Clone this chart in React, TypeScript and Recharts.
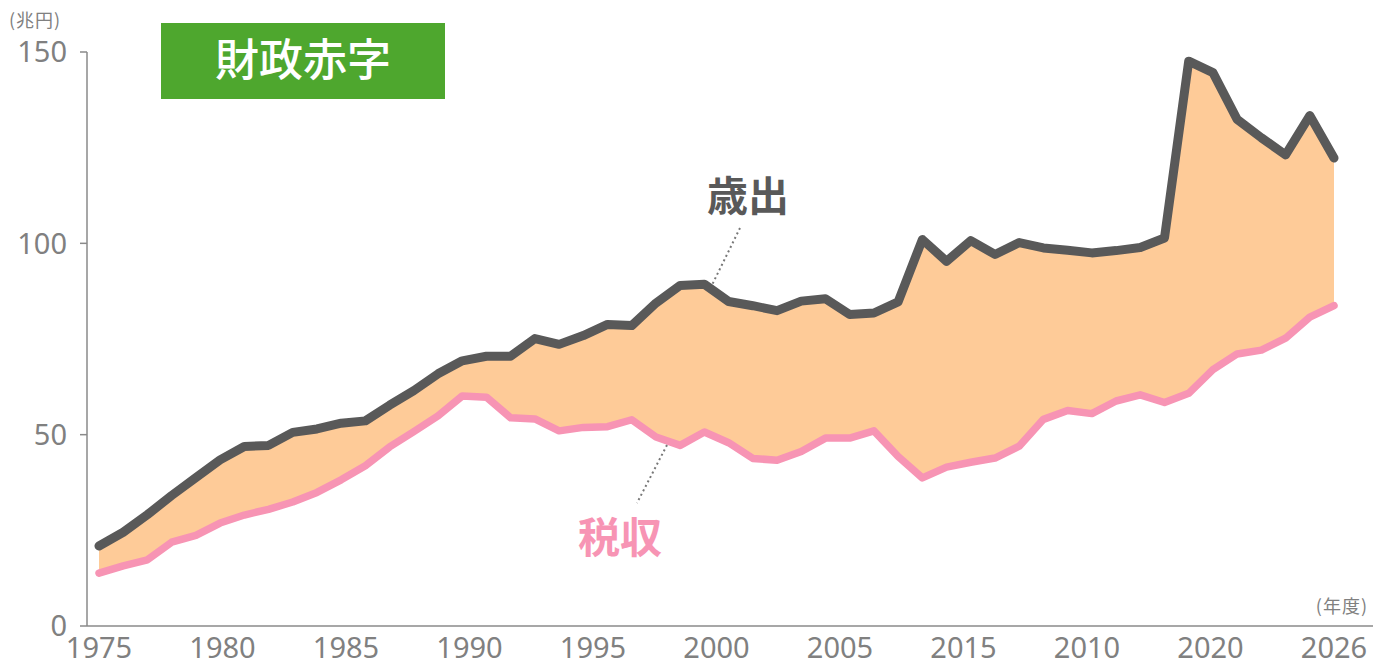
import { ComposedChart, Area, Line, XAxis, YAxis } from 'recharts'

// 年度
const YEARS = [
  1975, 1976, 1977, 1978, 1979, 1980, 1981, 1982, 1983, 1984,
  1985, 1986, 1987, 1988, 1989, 1990, 1991, 1992, 1993, 1994,
  1995, 1996, 1997, 1998, 1999, 2000, 2001, 2002, 2003, 2004,
  2005, 2006, 2007, 2008, 2009, 2010, 2011, 2012, 2013, 2014,
  2015, 2016, 2017, 2018, 2019, 2020, 2021, 2022, 2023, 2024,
  2025, 2026,
]

// 歳出 (兆円)
const EXPENDITURE = [
  20.9, 24.5, 29.1, 34.1, 38.8, 43.4, 46.9, 47.2, 50.6, 51.5,
  53.0, 53.6, 57.7, 61.5, 65.9, 69.3, 70.5, 70.5, 75.1, 73.6,
  75.9, 78.8, 78.5, 84.4, 89.0, 89.3, 84.8, 83.7, 82.4, 84.9,
  85.5, 81.4, 81.8, 84.7, 101.0, 95.3, 100.7, 97.1, 100.2, 98.8,
  98.2, 97.5, 98.1, 98.9, 101.4, 147.6, 144.6, 132.4, 127.6, 123.1,
  133.4, 122.3,
]

// 税収 (兆円)
const TAX_REVENUE = [
  13.8, 15.7, 17.3, 21.9, 23.7, 26.9, 29.0, 30.5, 32.4, 34.9,
  38.2, 41.9, 46.8, 50.8, 54.9, 60.1, 59.8, 54.4, 54.1, 51.0,
  51.9, 52.1, 53.9, 49.4, 47.2, 50.7, 47.9, 43.8, 43.3, 45.6,
  49.1, 49.1, 51.0, 44.3, 38.7, 41.5, 42.8, 43.9, 47.0, 54.0,
  56.3, 55.5, 58.8, 60.4, 58.4, 60.8, 67.0, 71.1, 72.1, 75.2,
  80.7, 83.7,
]

// x軸の目盛りラベル (元の図のまま)
const X_TICK_LABELS = ['1975', '1980', '1985', '1990', '1995', '2000', '2005', '2015', '2010', '2020', '2026']
const Y_TICKS = [0, 50, 100, 150]

const data = YEARS.map((year, i) => ({
  year,
  exp: EXPENDITURE[i],
  tax: TAX_REVENUE[i],
  gap: [TAX_REVENUE[i], EXPENDITURE[i]],
}))

// labels are spread evenly over the year range
const first = YEARS[0]
const last = YEARS[YEARS.length - 1]
const step = (last - first) / (X_TICK_LABELS.length - 1)
const xTicks = X_TICK_LABELS.map((_, i) => first + i * step)

const GRAY = '#595959'
const PINK = '#f794b4'
const FILL = '#fecb98'
const AXIS = '#8a8a8a'
const TICK_TEXT = '#808080'
const JP = '"Noto Sans CJK JP", "Noto Sans", sans-serif'

const W = 1373
const H = 665

export default function App() {
  return (
    <div style={{ position: 'absolute', left: 0, top: 0, width: W, height: H, background: '#fff', fontFamily: JP }}>
      <ComposedChart
        width={W}
        height={H}
        data={data}
        margin={{ top: 52, right: 0, bottom: 0, left: 0 }}
      >
        <XAxis
          dataKey="year"
          type="number"
          domain={[first, last]}
          ticks={xTicks}
          interval={0}
          tickFormatter={(_v: number, i: number) => X_TICK_LABELS[i]}
          padding={{ left: 12, right: 39 }}
          height={39}
          tickLine={false}
          tickSize={0}
          tickMargin={11}
          stroke={AXIS}
          strokeWidth={1.5}
          tick={{ fill: TICK_TEXT, fontSize: 29, fontFamily: '"Noto Sans", sans-serif' }}
        />
        <YAxis
          type="number"
          domain={[0, 150]}
          ticks={Y_TICKS}
          width={87}
          tickSize={7}
          tickMargin={13}
          stroke={AXIS}
          strokeWidth={1.5}
          tick={{ fill: TICK_TEXT, fontSize: 29, fontFamily: '"Noto Sans", sans-serif' }}
        />
        <Area
          dataKey="gap"
          type="linear"
          fill={FILL}
          fillOpacity={1}
          stroke="none"
          isAnimationActive={false}
        />
        <Line
          dataKey="tax"
          type="linear"
          stroke={PINK}
          strokeWidth={7.5}
          strokeLinecap="round"
          strokeLinejoin="round"
          dot={false}
          isAnimationActive={false}
        />
        <Line
          dataKey="exp"
          type="linear"
          stroke={GRAY}
          strokeWidth={9}
          strokeLinecap="round"
          strokeLinejoin="round"
          dot={false}
          isAnimationActive={false}
        />
      </ComposedChart>

      <svg width={W} height={H} style={{ position: 'absolute', left: 0, top: 0, pointerEvents: 'none' }}>
        <text x={9} y={27} fontSize={18} fill={TICK_TEXT} fontFamily={JP} letterSpacing={1}>(兆円)</text>
        <text x={1368} y={613} fontSize={18} fill={TICK_TEXT} fontFamily={JP} letterSpacing={1} textAnchor="end">(年度)</text>

        <rect x={161} y={23} width={284} height={76} fill="#4ea72e" />
        <text x={303} y={76} fontSize={44} fontWeight={500} fill="#fff" fontFamily={JP} textAnchor="middle">財政赤字</text>

        <text x={748} y={211} fontSize={41} fontWeight={700} fill={GRAY} fontFamily={JP} textAnchor="middle">歳出</text>
        <line x1={740} y1={228} x2={712} y2={285} stroke="#777" strokeWidth={2} strokeDasharray="2 3" />

        <text x={620} y={553} fontSize={42} fontWeight={700} fill={PINK} fontFamily={JP} textAnchor="middle">税収</text>
        <line x1={667} y1={445} x2={637} y2={503} stroke="#777" strokeWidth={2} strokeDasharray="2 3" />
      </svg>
    </div>
  )
}
